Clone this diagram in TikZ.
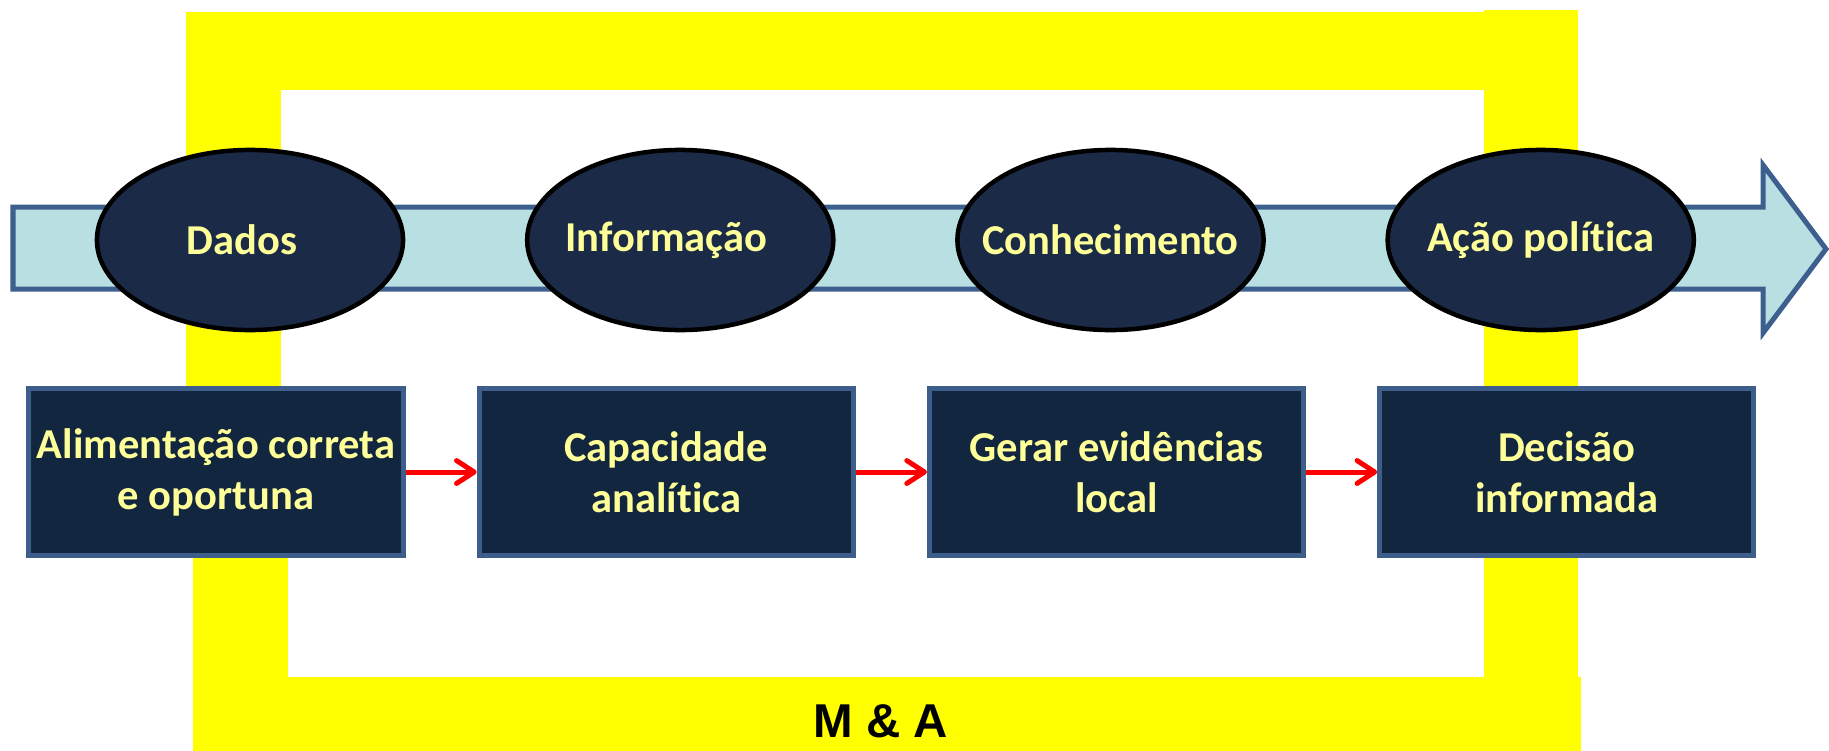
\documentclass[tikz,border=0pt]{standalone}
\usepackage{fontspec}
\setmainfont[Ligatures=NoCommon]{Carlito}
\newfontfamily\arialfont{Liberation Sans}
\usetikzlibrary{arrows.meta,positioning,shapes.geometric}
\definecolor{navyfill}{RGB}{27,43,71}
\definecolor{boxfill}{RGB}{18,38,63}
\definecolor{boxedge}{RGB}{61,93,138}
\definecolor{bandfill}{RGB}{184,223,226}
\definecolor{bandedge}{RGB}{60,95,142}
\definecolor{paleyellow}{RGB}{255,255,153}
\definecolor{framey}{RGB}{255,255,0}
% text that does not widen the ellipse (optional horizontal shift)
\newcommand{\stagetext}[2][0pt]{\hspace*{#1}\makebox[0pt][c]{#2}\hspace*{-#1}}

\begin{document}
\begin{tikzpicture}[x=0.01cm, y=-0.01cm,
    stage/.style={ellipse, fill=navyfill, draw=black, line width=0.045cm, minimum width=3.06cm, minimum height=1.80cm, inner sep=0pt, text=paleyellow, font=\fontsize{12.1}{14.5}\selectfont\bfseries},
    taskbox/.style={rectangle, fill=boxfill, draw=boxedge, line width=0.05cm, minimum width=3.74cm, minimum height=1.66cm, inner sep=0pt, align=center, text=paleyellow, font=\fontsize{12.1}{14.5}\selectfont\bfseries},
    flow/.style={-{Straight Barb[length=5pt,width=6.5pt,round]}, line width=0.05cm, red}
]
    \useasboundingbox (0,0) rectangle (1829,751);

    % yellow frame
    \fill[framey] (186,12) rectangle (1484,90);
    \fill[framey] (1484,10) rectangle (1578,751);
    \fill[framey] (186,12) rectangle (281,472);
    \fill[framey] (193,472) rectangle (288,751);
    \fill[framey] (193,677) rectangle (1581,751);

    % band arrow
    \draw[bandedge, fill=bandfill, line width=0.05cm] (13,207) -- (1763,207) -- (1763,165) -- (1826,249) -- (1763,333) -- (1763,289) -- (13,289) -- cycle;

    \node[stage] (dados) at (250,240) {\stagetext[-0.08cm]{Dados}};
    \node[stage, on grid, right=4.3cm of dados] (info) {\stagetext[-0.14cm]{Informação}};
    \node[stage, on grid, right=4.3cm of info] (conh) {\stagetext{Conhecimento}};
    \node[stage, on grid, right=4.3cm of conh] (acao) {\stagetext{Ação política}};

    \node[taskbox] (alim) at (216,472) {Alimentação correta\\e oportuna};
    \node[taskbox, on grid, right=4.5cm of alim] (capac) {Capacidade\\analítica};
    \node[taskbox, on grid, right=4.5cm of capac] (gerar) {Gerar evidências\\local};
    \node[taskbox, on grid, right=4.5cm of gerar] (decis) {Decisão\\informada};

    \draw[flow] (alim) -- (capac);
    \draw[flow] (capac) -- (gerar);
    \draw[flow] (gerar) -- (decis);

    \node[anchor=base, font=\arialfont\bfseries\fontsize{13.5}{16}\selectfont] (ma) at (881,737) {M \& A};
\end{tikzpicture}
\end{document}
